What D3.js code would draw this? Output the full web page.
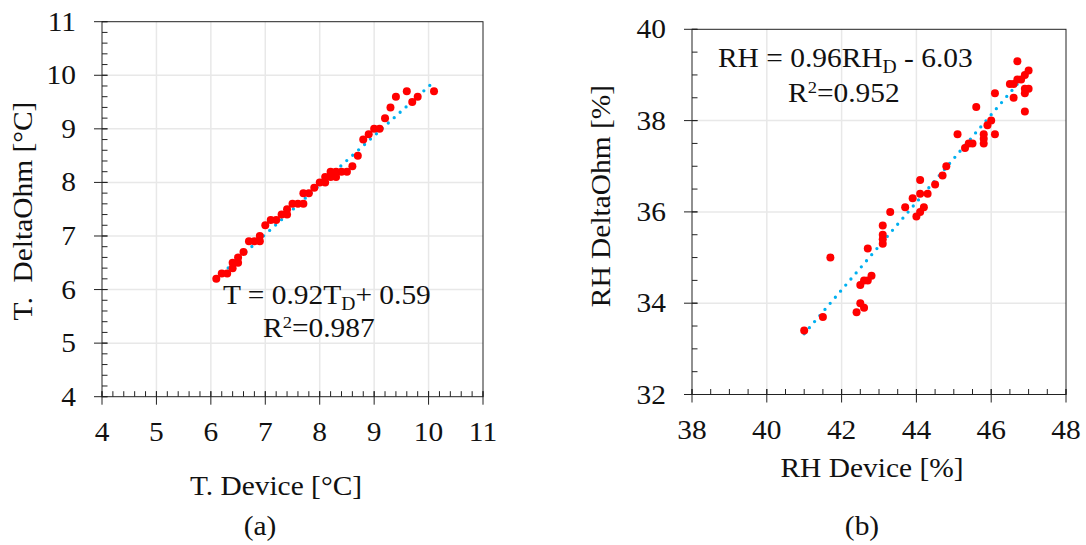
<!DOCTYPE html>
<html><head><meta charset="utf-8">
<script src="https://cdn.jsdelivr.net/npm/d3@7"></script>
<style>body{margin:0;background:#fff}text{font-family:"Liberation Serif","Times New Roman",serif;fill:#111;white-space:pre}</style>
</head><body><svg id="c" width="1086" height="545"></svg>
<script>
// Panel (a): temperature
const tDevice = [6.1,6.2,6.3,6.4,6.4,6.5,6.5,6.6,6.7,6.8,6.9,6.9,7.0,7.1,7.2,7.3,7.4,7.4,7.5,7.6,7.7,7.7,7.8,7.9,8.0,8.1,8.1,8.2,8.2,8.3,8.3,8.4,8.5,8.6,8.7,8.8,8.9,9.0,9.1,9.2,9.3,9.4,9.6,9.7,9.8,10.1];
const tDelta  = [6.2,6.3,6.3,6.5,6.4,6.6,6.5,6.7,6.9,6.9,7.0,6.9,7.2,7.3,7.3,7.4,7.5,7.4,7.6,7.6,7.8,7.6,7.8,7.9,8.0,8.1,8.0,8.2,8.1,8.2,8.1,8.2,8.2,8.3,8.5,8.8,8.9,9.0,9.0,9.2,9.4,9.6,9.7,9.5,9.6,9.7];
const tTicks = [4,5,6,7,8,9,10,11];
const tFit = {slope:0.92, intercept:0.59, x0:6.1, x1:10.05};
// Panel (b): relative humidity
const rhDevice = [41.0,41.5,41.7,42.4,42.5,42.5,42.6,42.6,42.7,42.7,42.8,43.1,43.1,43.1,43.1,43.3,43.7,43.9,44.0,44.1,44.1,44.1,44.2,44.3,44.5,44.7,44.8,45.1,45.3,45.4,45.5,45.6,45.8,45.8,45.8,45.9,46.0,46.1,46.1,46.5,46.6,46.6,46.7,46.7,46.8,46.9,46.9,46.9,46.9,47.0,47.0];
const rhDelta  = [33.4,33.7,35.0,33.8,34.4,34.0,33.9,34.5,34.5,35.2,34.6,35.7,35.5,35.4,35.3,36.0,36.1,36.3,35.9,36.7,36.4,36.0,36.1,36.4,36.6,36.8,37.0,37.7,37.4,37.5,37.5,38.3,37.7,37.6,37.5,37.9,38.0,37.7,38.6,38.8,38.5,38.8,39.3,38.9,38.9,39.0,38.6,38.2,38.7,39.1,38.7];
const rhXTicks = [38,40,42,44,46,48];
const rhYTicks = [32,34,36,38,40];
const rhFit = {slope:0.96, intercept:-6.03, x0:41.0, x1:46.95};

const svg = d3.select("#c");
const SX = 1.09; // horizontal stretch of the reference's type

function txt(parent, x, y, s, anchor, rot){
  const g = parent.append("g").attr("transform",`translate(${x},${y})${rot?` rotate(${rot})`:""} scale(${SX},1)`);
  return g.append("text").attr("text-anchor",anchor||"start").attr("font-size",27).text(s);
}

function panel(o){
  const g = svg.append("g");
  const x = d3.scaleLinear().domain(o.xd).range([o.L,o.R]);
  const y = d3.scaleLinear().domain(o.yd).range([o.B,o.T]);
  g.selectAll(".gx").data(o.xt.slice(1,-1)).join("line").attr("x1",d=>x(d)).attr("x2",d=>x(d)).attr("y1",o.T).attr("y2",o.B).attr("stroke","#e8e8e8").attr("stroke-width",1.5);
  g.selectAll(".gy").data(o.yt.slice(1,-1)).join("line").attr("y1",d=>y(d)).attr("y2",d=>y(d)).attr("x1",o.L).attr("x2",o.R).attr("stroke","#e8e8e8").attr("stroke-width",1.5);
  g.append("rect").attr("x",o.L).attr("y",o.T).attr("width",o.R-o.L).attr("height",o.B-o.T).attr("fill","none").attr("stroke","#222").attr("stroke-width",1);
  const xm = d3.range(o.xd[0], o.xd[1]+1e-9, o.minor);
  const ym = d3.range(o.yd[0], o.yd[1]+1e-9, o.minor);
  g.selectAll(".mx").data(xm).join("line").attr("x1",d=>x(d)).attr("x2",d=>x(d)).attr("y1",o.B).attr("y2",o.B-5.5).attr("stroke","#222");
  g.selectAll(".my").data(ym).join("line").attr("y1",d=>y(d)).attr("y2",d=>y(d)).attr("x1",o.L).attr("x2",o.L+5.5).attr("stroke","#222");
  g.selectAll(".Mx").data(o.xt).join("line").attr("x1",d=>x(d)).attr("x2",d=>x(d)).attr("y1",o.B-5.5).attr("y2",o.B+8).attr("stroke","#222");
  g.selectAll(".My").data(o.yt).join("line").attr("y1",d=>y(d)).attr("y2",d=>y(d)).attr("x1",o.L-8).attr("x2",o.L+5.5).attr("stroke","#222");
  o.xt.forEach(d=>txt(g, x(d), o.B+44, String(d), "middle"));
  o.yt.forEach(d=>txt(g, o.L-26, y(d)+9, String(d), "end"));
  const f = o.fit;
  g.append("line").attr("x1",x(f.x0)).attr("y1",y(f.slope*f.x0+f.intercept)).attr("x2",x(f.x1)).attr("y2",y(f.slope*f.x1+f.intercept))
    .attr("stroke","#00B0F0").attr("stroke-width",3.3).attr("stroke-linecap","round").attr("stroke-dasharray","0,8");
  g.selectAll(".pt").data(o.xs.map((v,i)=>[v,o.ys[i]])).join("circle").attr("cx",d=>x(d[0])).attr("cy",d=>y(d[1])).attr("r",4).attr("fill","#FF0000");
  return {g,x,y};
}

panel({L:102,R:483,T:21.7,B:396.7,xd:[4,11],yd:[4,11],xt:tTicks,yt:tTicks,minor:0.2,xs:tDevice,ys:tDelta,fit:tFit});
panel({L:692,R:1066,T:29.3,B:394.5,xd:[38,48],yd:[32,40],xt:rhXTicks,yt:rhYTicks,minor:0.5,xs:rhDevice,ys:rhDelta,fit:rhFit});

txt(svg, 276, 495, "T. Device [°C]", "middle");
txt(svg, 32, 211, "T.  DeltaOhm [°C]", "middle", -90);
txt(svg, 872, 477, "RH Device [%]", "middle");
txt(svg, 610, 196, "RH DeltaOhm [%]", "middle", -90);
txt(svg, 260, 535, "(a)", "middle");
txt(svg, 862, 535, "(b)", "middle");

function eq(xp,yp,pre,sub,post){
  const t = txt(svg, xp, yp, "", "start");
  t.append("tspan").text(pre);
  t.append("tspan").attr("font-size",18).attr("dy",6).text(sub);
  t.append("tspan").attr("dy",-6).text(post);
}
function r2(xp,yp,val){
  const t = txt(svg, xp, yp, "", "start");
  t.append("tspan").text("R");
  t.append("tspan").attr("font-size",17).attr("dy",-9).text("2");
  t.append("tspan").attr("dy",9).text("="+val);
}
eq(223,304,"T = 0.92T","D","+ 0.59");
r2(263,337,"0.987");
eq(718,67,"RH = 0.96RH","D"," - 6.03");
r2(788,102,"0.952");
</script></body></html>
